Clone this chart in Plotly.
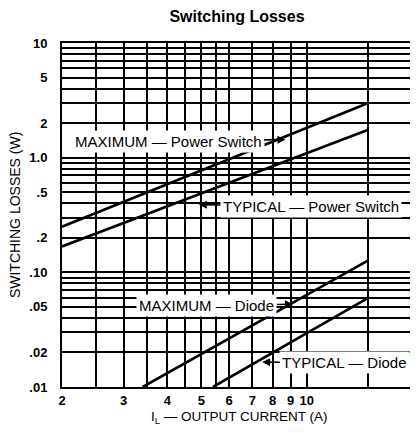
import math
import plotly.graph_objects as go

# ---- data ----
max_switch_x = [2, 15]
max_switch_y = [0.25, 3.0]
typ_switch_x = [2, 15]
typ_switch_y = [0.168, 1.75]
max_diode_x = [3.4, 15]
max_diode_y = [0.01, 0.127]
typ_diode_x = [5.4, 15]
typ_diode_y = [0.01, 0.06]

x_tickvals = [2, 3, 4, 5, 6, 7, 8, 9, 10, 20]
x_ticktext = ["2", "3", "4", "5", "6", "7", "8", "9", "10", "20"]
x_minor_grid = [2.5, 3.5, 4.5, 5.5, 15]
y_tickvals = [10, 5, 2, 1, 0.5, 0.2, 0.1, 0.05, 0.02, 0.01]
y_ticktext = ["10", "5", "2", "1.0", ".5", ".2", ".10", ".05", ".02", ".01"]
y_minor_grid = [m * 10 ** d for d in (-2, -1, 0) for m in (3, 4, 6, 7, 8, 9)]

FONT = "Liberation Sans"
L = math.log10

fig = go.Figure()
for xs, ys in [(max_switch_x, max_switch_y), (typ_switch_x, typ_switch_y),
               (max_diode_x, max_diode_y), (typ_diode_x, typ_diode_y)]:
    fig.add_trace(go.Scatter(x=xs, y=ys, mode="lines",
                             line=dict(color="black", width=2.6),
                             showlegend=False, hoverinfo="skip"))

def label(text, tx, ty, hx, hy):
    fig.add_annotation(
        x=L(hx), y=L(hy), xref="x", yref="y",
        ax=L(tx), ay=L(ty), axref="x", ayref="y",
        text=text, showarrow=True, arrowhead=2, arrowsize=1.0,
        arrowwidth=1.6, arrowcolor="black",
        bgcolor="white", borderpad=2,
        font=dict(family=FONT, size=15, color="black"))

label("MAXIMUM — Power Switch", 4.02, 1.38, 8.7, 1.44)
label("TYPICAL — Power Switch", 10.29, 0.375, 4.92, 0.39)
label("MAXIMUM — Diode", 5.19, 0.0516, 9.14, 0.0527)
label("TYPICAL — Diode", 12.87, 0.0162, 7.46, 0.0165)

# axis titles
fig.add_annotation(text="SWITCHING LOSSES (W)", xref="paper", yref="paper",
                   x=-0.134, y=0.5, xanchor="center", yanchor="middle",
                   textangle=-90, showarrow=False,
                   font=dict(family=FONT, size=14, color="black"))
fig.add_annotation(text="I<sub>L</sub> — OUTPUT CURRENT (A)", xref="paper", yref="paper",
                   x=0.506, y=-0.089, xanchor="center", yanchor="middle",
                   showarrow=False,
                   font=dict(family=FONT, size=13.5, color="black"))

grid = dict(showgrid=True, gridcolor="black", gridwidth=1.5)
fig.update_xaxes(type="log", range=[L(2), L(20)],
                 tickmode="array", tickvals=x_tickvals, ticktext=x_ticktext,
                 ticks="", tickfont=dict(family=FONT, size=13, color="black", weight="bold"),
                 showline=True, mirror=True, linecolor="black", linewidth=2,
                 zeroline=False, automargin=False,
                 minor=dict(tickmode="array", tickvals=x_minor_grid, ticks="", **grid),
                 **grid)
fig.update_yaxes(type="log", range=[-2, 1],
                 tickmode="array", tickvals=y_tickvals, ticktext=y_ticktext,
                 ticks="", ticklabelstandoff=10, automargin=False,
                 tickfont=dict(family=FONT, size=13, color="black", weight="bold"),
                 showline=True, mirror=True, linecolor="black", linewidth=2,
                 zeroline=False,
                 minor=dict(tickmode="array", tickvals=y_minor_grid, ticks="", **grid),
                 **grid)

# page body has an 8px margin: size the figure so it fits the 418x433 window
fig.update_layout(
    width=410, height=417,
    margin=dict(l=54, r=6, t=35, b=38),
    paper_bgcolor="white", plot_bgcolor="white",
    title=dict(text="<b>Switching Losses</b>", x=0.5, xref="paper",
               y=1 - 8 / 417, yanchor="middle",
               font=dict(family=FONT, size=16, color="black")),
    showlegend=False,
)

fig.write_html("out.html")
